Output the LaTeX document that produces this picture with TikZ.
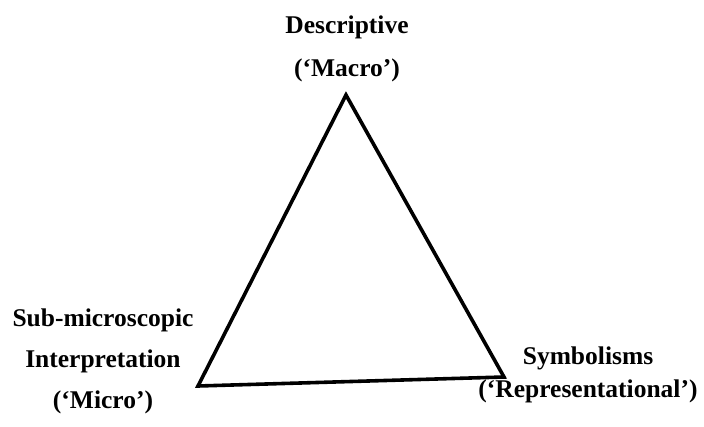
\documentclass[tikz,border=0pt]{standalone}
\usepackage{fontspec}
\setmainfont{Liberation Serif}
\begin{document}
\begin{tikzpicture}[x=1pt,y=-1pt,
  lab/.style={align=center,inner sep=0pt,font=\bfseries\fontsize{25.5}{43}\selectfont},
  side/.style={line width=3.6pt,line join=miter,black}]
\useasboundingbox (0,0) rectangle (704,426);
\fill[white] (0,0) rectangle (704,426);
\coordinate (T) at (346,95);
\coordinate (L) at (198,386);
\coordinate (R) at (504,377);
\draw[side] (T) -- (L) -- (R) -- cycle;
\node[lab] (top) at (347,49) {Descriptive\\(‘Macro’)};
\node[lab,font=\bfseries\fontsize{25.5}{41}\selectfont] (left) at (103,361) {Sub-microscopic\\Interpretation\\(‘Micro’)};
\node[lab,font=\bfseries\fontsize{25.5}{33}\selectfont] (right) at (588,375) {Symbolisms\\(‘Representational’)};
\end{tikzpicture}
\end{document}
